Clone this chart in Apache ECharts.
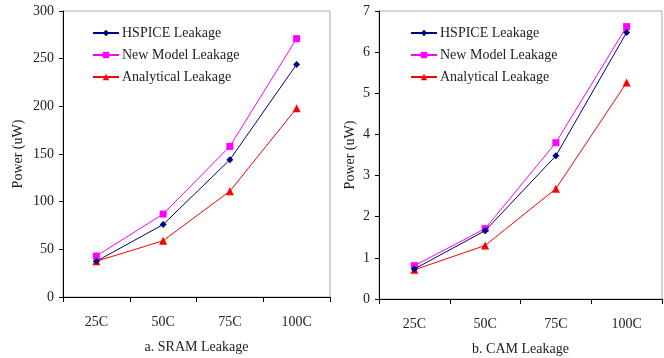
<!DOCTYPE html>
<html>
<head>
<meta charset="utf-8">
<script src="https://cdn.jsdelivr.net/npm/echarts@6/dist/echarts.min.js"></script>
<style>
  html, body { margin: 0; padding: 0; background: #fff; }
  #chart { width: 664px; height: 358px; }
</style>
</head>
<body>
<div id="chart"></div>
<script>
// temperature categories
const categories = ['25C', '50C', '75C', '100C'];
const seriesNames = ['HSPICE Leakage', 'New Model Leakage', 'Analytical Leakage'];

// a. SRAM leakage (uW)
const sramHspice = [37.5, 76, 144, 244];
const sramNewModel = [43, 87, 158, 271];
const sramAnalytical = [37.5, 59, 111, 198];

// b. CAM leakage (uW)
const camHspice = [0.73, 1.66, 3.48, 6.48];
const camNewModel = [0.81, 1.71, 3.80, 6.62];
const camAnalytical = [0.71, 1.30, 2.68, 5.26];

const FONT = '"Liberation Serif", "Times New Roman", serif';
const colors = ['#000080', '#FF00FF', '#FF0000'];
const symbols = ['diamond', 'rect', 'triangle'];
const symbolSizes = [7, 7, 8];

const chart = echarts.init(document.getElementById('chart'));

function makeSeries(data, idx, gridIdx) {
  return {
    name: seriesNames[idx],
    type: 'line',
    xAxisIndex: gridIdx,
    yAxisIndex: gridIdx,
    data: data,
    symbol: symbols[idx],
    symbolSize: symbolSizes[idx],
    showAllSymbol: true,
    lineStyle: { color: colors[idx], width: 1 },
    itemStyle: { color: colors[idx] },
    emphasis: { disabled: true },
    z: 3 - idx,
  };
}

function xAxisFor(gridIdx, name) {
  return {
    type: 'category',
    gridIndex: gridIdx,
    data: categories,
    boundaryGap: true,
    name: name,
    nameLocation: 'middle',
    nameGap: 43,
    nameTextStyle: { fontFamily: FONT, fontSize: 14, color: '#222' },
    axisLine: { lineStyle: { color: '#000', width: 1 } },
    axisTick: { show: true, length: 5, lineStyle: { color: '#000' } },
    axisLabel: { margin: 18, fontFamily: FONT, fontSize: 14, color: '#222' },
    splitLine: { show: false },
  };
}

function yAxisFor(gridIdx, max, interval, nameGap) {
  return {
    type: 'value',
    gridIndex: gridIdx,
    min: 0,
    max: max,
    interval: interval,
    name: 'Power (uW)',
    nameLocation: 'middle',
    nameRotate: 90,
    nameGap: nameGap,
    nameTextStyle: { fontFamily: FONT, fontSize: 14, color: '#222' },
    axisLine: { show: true, lineStyle: { color: '#000', width: 1 } },
    axisTick: { show: true, length: 4, lineStyle: { color: '#000' } },
    axisLabel: { margin: 9, fontFamily: FONT, fontSize: 14, color: '#222' },
    splitLine: { show: false },
  };
}

function legendFor(left) {
  return {
    orient: 'vertical',
    left: left,
    top: 21,
    itemWidth: 26,
    itemHeight: 8,
    itemGap: 8,
    data: seriesNames,
    textStyle: { fontFamily: FONT, fontSize: 14, color: '#222', padding: [0, 0, 0, -2] },
    selectedMode: false,
  };
}

const option = {
  animation: false,
  backgroundColor: '#fff',
  grid: [
    { left: 63, right: 334, top: 11, bottom: 61, outerBoundsMode: 'none', show: true, borderColor: '#aaa', borderWidth: 1 },
    { left: 379, right: 2, top: 11, bottom: 59, outerBoundsMode: 'none', show: true, borderColor: '#aaa', borderWidth: 1 },
  ],
  legend: [legendFor(87), legendFor(405)],
  xAxis: [xAxisFor(0, 'a. SRAM Leakage'), xAxisFor(1, 'b. CAM Leakage')],
  yAxis: [yAxisFor(0, 300, 50, 38), yAxisFor(1, 7, 1, 22)],
  series: [
    makeSeries(sramHspice, 0, 0),
    makeSeries(sramNewModel, 1, 0),
    makeSeries(sramAnalytical, 2, 0),
    makeSeries(camHspice, 0, 1),
    makeSeries(camNewModel, 1, 1),
    makeSeries(camAnalytical, 2, 1),
  ],
};

chart.setOption(option);
</script>
</body>
</html>
